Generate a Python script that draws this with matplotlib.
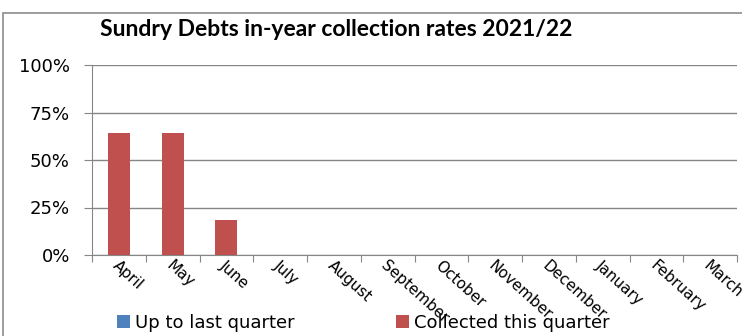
import matplotlib.pyplot as plt
from matplotlib.patches import Rectangle

months = ['April', 'May', 'June', 'July', 'August', 'September', 'October',
          'November', 'December', 'January', 'February', 'March']
up_to_last = [0, 0, 0, 0, 0, 0, 0, 0, 0, 0, 0, 0]
this_quarter = [0.64, 0.64, 0.185, 0, 0, 0, 0, 0, 0, 0, 0, 0]

fig = plt.figure(figsize=(7.42, 3.36), dpi=100)
# outer chart border
fig.patches.append(Rectangle((3 / 742, -0.1), 2, 1 - 13 / 336 + 0.1, transform=fig.transFigure,
                             fill=False, edgecolor='#8c8c8c', linewidth=1.2))

ax = fig.add_axes([92 / 742, 1 - 255 / 336, 645 / 742, 190 / 336])
x = range(len(months))
ax.bar(x, up_to_last, width=0.41, color='#4F81BD', label='Up to last quarter')
ax.bar(x, this_quarter, width=0.41, bottom=up_to_last, color='#C0504D',
       label='Collected this quarter')

ax.set_xlim(-0.5, 11.5)
ax.set_ylim(0, 1)
ax.set_yticks([0, 0.25, 0.5, 0.75, 1.0])
ax.set_yticklabels(['0%', '25%', '50%', '75%', '100%'], fontsize=13)
ax.yaxis.grid(True, color='#868686', linewidth=1)
ax.set_axisbelow(True)
for s in ['top', 'right']:
    ax.spines[s].set_visible(False)
for s in ['left', 'bottom']:
    ax.spines[s].set_color('#868686')
ax.tick_params(axis='y', length=6, color='#868686', pad=10)

# ticks at category boundaries, labels centred
ax.set_xticks([i - 0.5 for i in range(13)])
ax.set_xticklabels([])
ax.tick_params(axis='x', length=5, color='#868686')
for i, m in enumerate(months):
    ax.text(i - 0.08, -0.045, m, transform=ax.get_xaxis_transform(), rotation=-42,
            rotation_mode='anchor', ha='left', va='center', fontsize=11)

fig.text(0.453, 1 - 30 / 336, 'Sundry Debts in-year collection rates 2021/22',
         ha='center', va='center', fontsize=16.5, fontweight='bold', family='Lato')

fig.legend(loc='center', bbox_to_anchor=(0.49, 1 - 323 / 336), ncol=2, frameon=False,
           fontsize=13, handlelength=0.7, handleheight=0.7, handletextpad=0.3,
           columnspacing=5.6, borderaxespad=0)

fig.savefig('out.png', dpi=100)
